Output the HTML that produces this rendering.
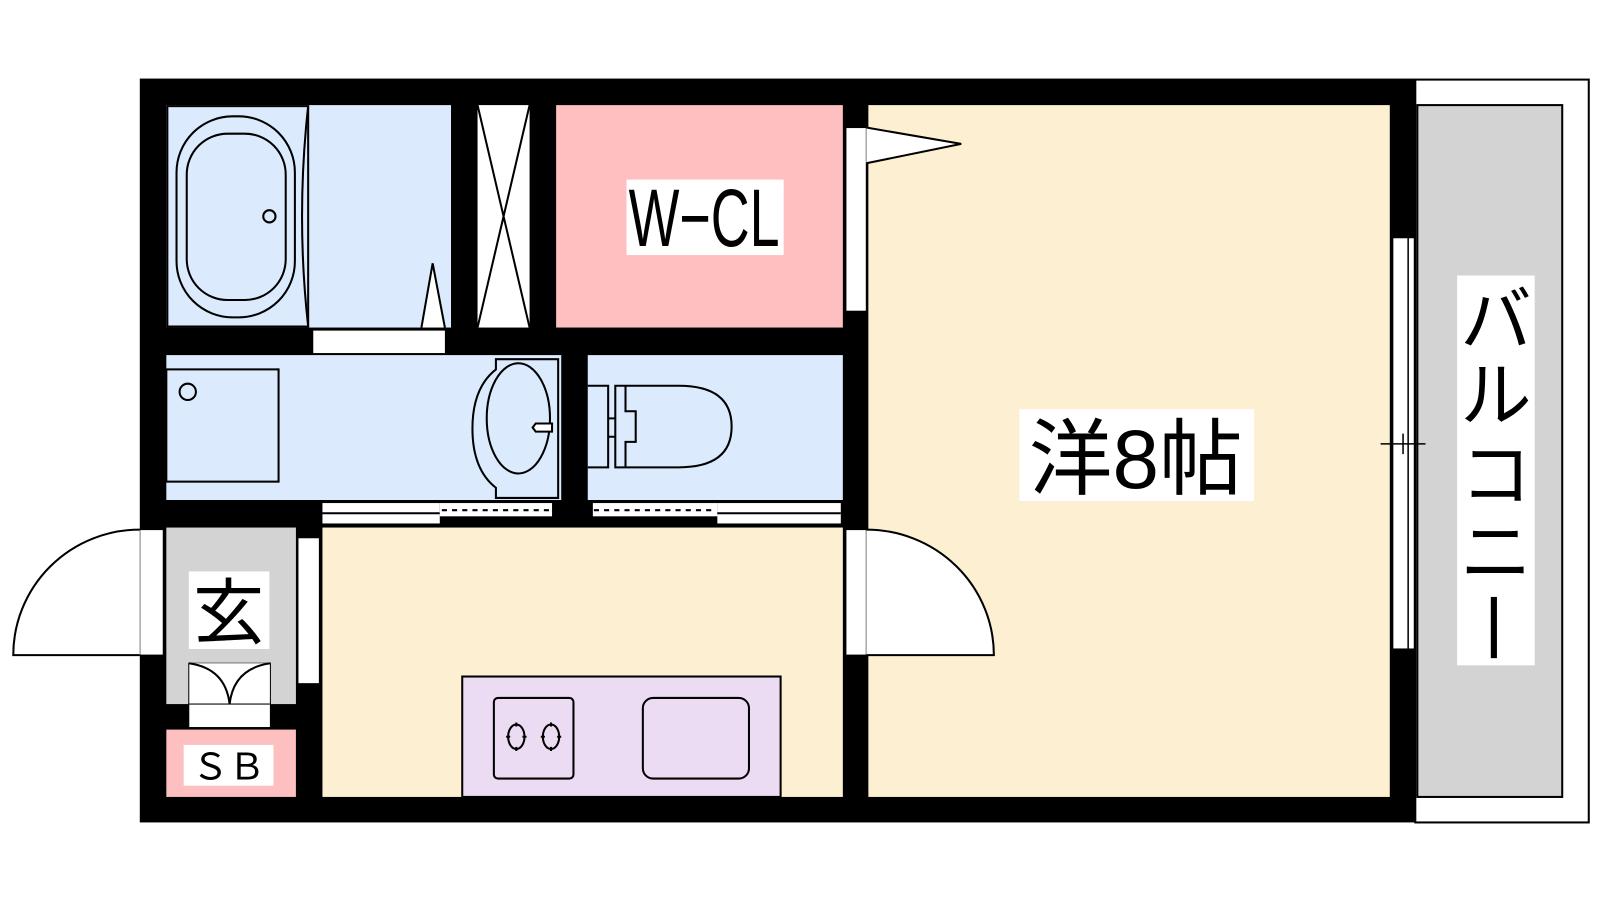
<!DOCTYPE html>
<html><head><meta charset="utf-8"><style>
html,body{margin:0;padding:0;background:#fff;width:1600px;height:900px;overflow:hidden}
text{font-family:"Liberation Sans","Noto Sans CJK JP",sans-serif}
</style></head><body>
<svg width="1600" height="900" viewBox="0 0 1600 900" xmlns="http://www.w3.org/2000/svg">
<rect width="1600" height="900" fill="#fff"/>
<g transform="scale(1.0204)">
<!-- balcony -->
<rect x="1387" y="78" width="170" height="728" fill="#fff" stroke="#000" stroke-width="2"/>
<rect x="1389" y="103" width="142" height="678" fill="#d3d3d3" stroke="#000" stroke-width="2"/>
<!-- main black -->
<rect x="137" y="77" width="1250" height="729" fill="#000"/>
<!-- rooms -->
<rect x="163" y="103" width="279" height="218" fill="#dbeafc"/>
<rect x="468" y="103" width="51" height="218" fill="#fff"/>
<path d="M468 103 L519 321 M519 103 L468 321" stroke="#000" stroke-width="2"/>
<rect x="545" y="103" width="281" height="218" fill="#fdbfbf"/>
<rect x="851" y="103" width="511" height="678" fill="#fdf0d2"/>
<rect x="163" y="348" width="387" height="142" fill="#dbeafc"/>
<rect x="576" y="348" width="250" height="142" fill="#dbeafc"/>
<rect x="163" y="517" width="127" height="173" fill="#d3d3d3"/>
<rect x="163" y="715" width="127" height="66" fill="#fdbfbf"/>
<rect x="316" y="517" width="510" height="264" fill="#fdf0d2"/>
<!-- bath -->
<rect x="164" y="104" width="138" height="216" fill="none" stroke="#000" stroke-width="2"/>
<path d="M302 104 Q290 212 302 320" fill="none" stroke="#000" stroke-width="2"/>
<rect x="173" y="114" width="116" height="197" rx="55" fill="none" stroke="#000" stroke-width="2"/>
<rect x="183" y="131" width="97" height="163" rx="40" fill="none" stroke="#000" stroke-width="2"/>
<circle cx="264" cy="212" r="6" fill="none" stroke="#000" stroke-width="2"/>
<rect x="307" y="324" width="129" height="22" fill="#fff"/>
<path d="M413 321 L424 258 L436 321" fill="#fff" stroke="#000" stroke-width="2"/>
<!-- WCL door -->
<rect x="829" y="125" width="20" height="180" fill="#fff" stroke="#000" stroke-width="1"/>
<path d="M849 125 L942 141 L849 160" fill="#fff" stroke="#000" stroke-width="2"/>
<!-- washroom -->
<rect x="163" y="362" width="110" height="110" fill="none" stroke="#000" stroke-width="2"/>
<circle cx="184" cy="384" r="8" fill="none" stroke="#000" stroke-width="2"/>
<path d="M547 352 L486 352 L486 362 Q463 380 463 420 Q463 460 486 478 L486 488 L547 488 Z" fill="none" stroke="#000" stroke-width="2"/>
<ellipse cx="508" cy="410" rx="31" ry="54" fill="none" stroke="#000" stroke-width="2"/>
<path d="M541 415 L525 415 L522 419 L525 423 L541 423 Z" fill="#fff" stroke="#000" stroke-width="2"/>
<!-- toilet -->
<path d="M576 378 L596 378 L596 458 L576 458" fill="none" stroke="#000" stroke-width="2"/>
<path d="M603 378 L665 378 Q717 378 717 418 Q717 458 665 458 L603 458 Z" fill="none" stroke="#000" stroke-width="2"/>
<path d="M613 378 L613 403 L623 403 L623 433 L613 433 L613 458 M596 410 L603 410 M596 428 L603 428" fill="none" stroke="#000" stroke-width="2"/>
<!-- sliding doors -->
<rect x="316" y="493" width="115" height="20" fill="#fff"/>
<path d="M316 503 L431 503" stroke="#000" stroke-width="2"/>
<rect x="431" y="493" width="110" height="13" fill="#fff"/>
<path d="M433 500 L540 500" stroke="#000" stroke-width="2" stroke-dasharray="5 5"/>
<rect x="581" y="493" width="122" height="13" fill="#fff"/>
<path d="M582 500 L702 500" stroke="#000" stroke-width="2" stroke-dasharray="5 5"/>
<rect x="703" y="493" width="121" height="20" fill="#fff"/>
<path d="M703 503 L824 503" stroke="#000" stroke-width="2"/>
<!-- entrance -->
<rect x="137" y="519" width="23" height="123" fill="#fff" stroke="#000" stroke-width="1"/>
<path d="M137 519 A124 123 0 0 0 13 642 L137 642" fill="#fff" stroke="#000" stroke-width="2"/>
<rect x="292" y="527" width="21" height="143" fill="#fff" stroke="#000" stroke-width="1"/>
<rect x="185" y="650" width="80" height="40" fill="#fff" stroke="#000" stroke-width="1"/>
<path d="M185 650 Q221 655 225 690 Q229 655 265 650" fill="#fff" stroke="#000" stroke-width="2"/>
<rect x="185" y="690" width="80" height="23" fill="#fff" stroke="#000" stroke-width="1"/>
<rect x="185" y="560" width="79" height="76" fill="#fff"/>
<text x="224" y="625" font-size="70" text-anchor="middle">玄</text>
<rect x="180" y="730" width="88" height="40" fill="#fff"/>
<text x="224" y="764" font-size="36" text-anchor="middle">ＳＢ</text>
<!-- kitchen -->
<rect x="453" y="663" width="312" height="118" fill="#ecdcf3" stroke="#000" stroke-width="2"/>
<rect x="484" y="684" width="78" height="79" rx="4" fill="none" stroke="#000" stroke-width="2"/>
<ellipse cx="506" cy="722" rx="8" ry="12" fill="none" stroke="#000" stroke-width="2"/>
<ellipse cx="540" cy="722" rx="8" ry="12" fill="none" stroke="#000" stroke-width="2"/>
<path d="M496 722 L500 722 M512 722 L516 722 M506 708 L506 712 M506 732 L506 736 M530 722 L534 722 M546 722 L550 722 M540 708 L540 712 M540 732 L540 736" stroke="#000" stroke-width="2"/>
<rect x="630" y="684" width="104" height="79" rx="10" fill="none" stroke="#000" stroke-width="2"/>
<!-- right room door -->
<rect x="829" y="519" width="20" height="123" fill="#fff" stroke="#000" stroke-width="1"/>
<path d="M849 519 A125 123 0 0 1 974 642 L849 642" fill="#fff" stroke="#000" stroke-width="2"/>
<!-- right window -->
<rect x="1365" y="233" width="21" height="403" fill="#fff" stroke="#000" stroke-width="1"/>
<path d="M1380 233 L1380 636 M1353 435 L1397 435 M1375 425 L1375 445" stroke="#000" stroke-width="1.5"/>
<!-- labels -->
<rect x="614" y="176" width="154" height="74" fill="#fff"/>
<text x="616" y="241" font-size="80" textLength="148" lengthAdjust="spacingAndGlyphs">W−CL</text>
<rect x="999" y="401" width="230" height="90" fill="#fff"/>
<text x="1113" y="478" font-size="82" text-anchor="middle">洋8帖</text>
<rect x="1428" y="270" width="76" height="382" fill="#fff"/>
<text x="1466" y="338" font-size="70" text-anchor="middle">バ</text>
<text x="1466" y="412" font-size="70" text-anchor="middle">ル</text>
<text x="1466" y="490" font-size="70" text-anchor="middle">コ</text>
<text x="1466" y="566" font-size="70" text-anchor="middle">ニ</text>
<rect x="1461" y="585" width="6" height="60" fill="#000"/>
</g>
</svg>
</body></html>
